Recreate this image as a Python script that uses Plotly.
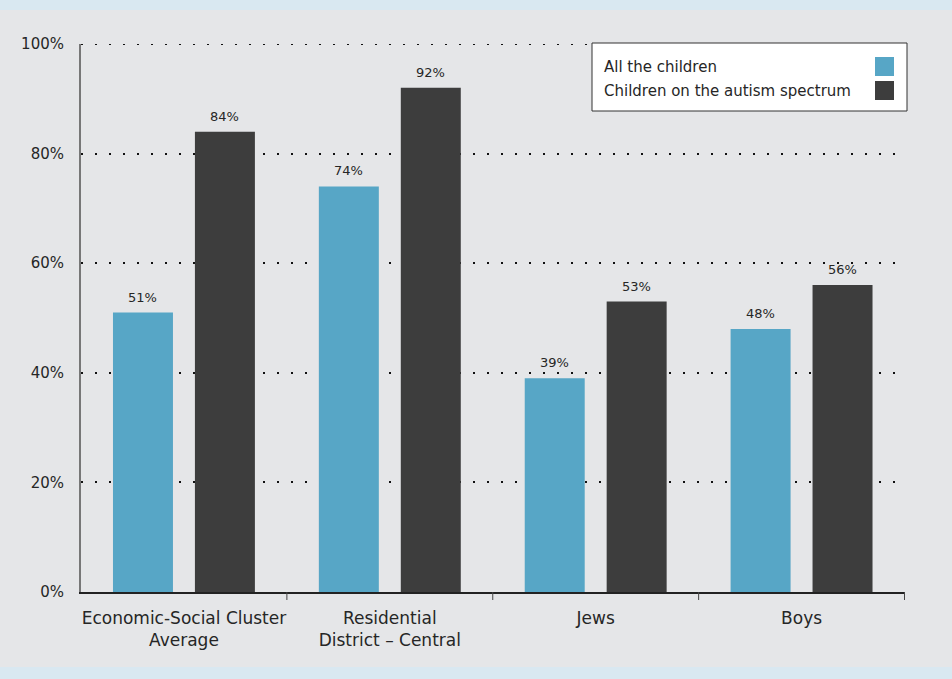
import plotly.graph_objects as go

# Data
categories = ["Economic-Social Cluster<br>Average", "Residential<br>District – Central", "Jews", "Boys"]
series_names = ["All the children", "Children on the autism spectrum"]
all_children = [51, 74, 39, 48]
autism_spectrum = [84, 92, 53, 56]
series_colors = ["#57a6c6", "#3d3d3d"]
y_ticks = [0, 20, 40, 60, 80, 100]
y_tick_text = ["0%", "20%", "40%", "60%", "80%", "100%"]

W, H = 952, 679
ML, MR, MT, MB = 81, 47, 44, 87
PW, PH = W - ML - MR, H - MT - MB


def px_x(x):
    return (x - ML) / PW


def px_y(y):
    return (H - MB - y) / PH


FONT = "DejaVu Sans"
TXT = "#262626"
DOTS = "2px,12px"

fig = go.Figure()
series = [all_children, autism_spectrum]
for k, (name, vals, col) in enumerate(zip(series_names, series, series_colors)):
    fig.add_trace(go.Bar(
        x=categories, y=vals, name=name, marker=dict(color=col, line=dict(width=0)),
        showlegend=False, offsetgroup=str(k),
    ))

# value labels above each bar
annotations = []
bar_offset = 0.199  # half the distance between the two bars of a group, in category units
for k, vals in enumerate(series):
    for i, v in enumerate(vals):
        annotations.append(dict(
            xref="x", yref="y", x=i + (2 * k - 1) * bar_offset, y=v,
            text=f"{v}%", showarrow=False, yanchor="bottom", yshift=6,
            font=dict(family=FONT, size=13, color=TXT)))

shapes = [
    # page background with light band at top and bottom
    dict(type="rect", xref="paper", yref="paper", layer="below",
         x0=px_x(0), x1=px_x(W), y0=px_y(667), y1=px_y(10),
         fillcolor="#e5e6e8", line=dict(width=0)),
    # dotted rule at the top of the scale
    dict(type="line", xref="paper", yref="y", layer="below",
         x0=0, x1=1, y0=100, y1=100,
         line=dict(color="#111111", width=2, dash=DOTS)),
    # legend box
    dict(type="rect", xref="paper", yref="paper",
         x0=px_x(592), x1=px_x(907), y0=px_y(111), y1=px_y(43),
         fillcolor="white", line=dict(color="#333333", width=1)),
]
# tick marks between the category groups
for i in range(len(categories)):
    shapes.append(dict(type="line", xref="x", yref="paper",
                       x0=i + 0.5, x1=i + 0.5, y0=0, y1=-8 / PH,
                       line=dict(color="#444444", width=1)))

for i, (name, col) in enumerate(zip(series_names, series_colors)):
    yc = 66.5 + i * 24
    shapes.append(dict(type="rect", xref="paper", yref="paper",
                       x0=px_x(875), x1=px_x(894), y0=px_y(yc + 9.5), y1=px_y(yc - 9.5),
                       fillcolor=col, line=dict(width=0)))
    annotations.append(dict(xref="paper", yref="paper", x=px_x(602), y=px_y(yc),
                            xanchor="left", yanchor="middle", showarrow=False, text=name,
                            font=dict(family=FONT, size=15, color=TXT)))

fig.update_layout(
    width=W, height=H,
    margin=dict(l=ML, r=MR, t=MT, b=MB, pad=0, autoexpand=False),
    paper_bgcolor="#d9e8f1", plot_bgcolor="rgba(0,0,0,0)",
    barmode="group", bargap=0.204, bargroupgap=0.268,
    shapes=shapes, annotations=annotations,
    showlegend=False,
    xaxis=dict(
        showline=True, linecolor="#222222", linewidth=1.5,
        ticks="", ticklabelstandoff=10, tickangle=0, automargin=False,
        tickfont=dict(family=FONT, size=17, color=TXT),
        showgrid=False, fixedrange=True,
    ),
    yaxis=dict(
        range=[0, 100], tickvals=y_ticks, ticktext=y_tick_text,
        showline=True, linecolor="#777777", linewidth=2,
        showgrid=True, gridcolor="#111111", gridwidth=2, griddash=DOTS,
        zeroline=False, ticks="", ticklabelstandoff=12, automargin=False,
        tickfont=dict(family=FONT, size=15, color=TXT), fixedrange=True,
    ),
)

fig.write_html("out.html")
